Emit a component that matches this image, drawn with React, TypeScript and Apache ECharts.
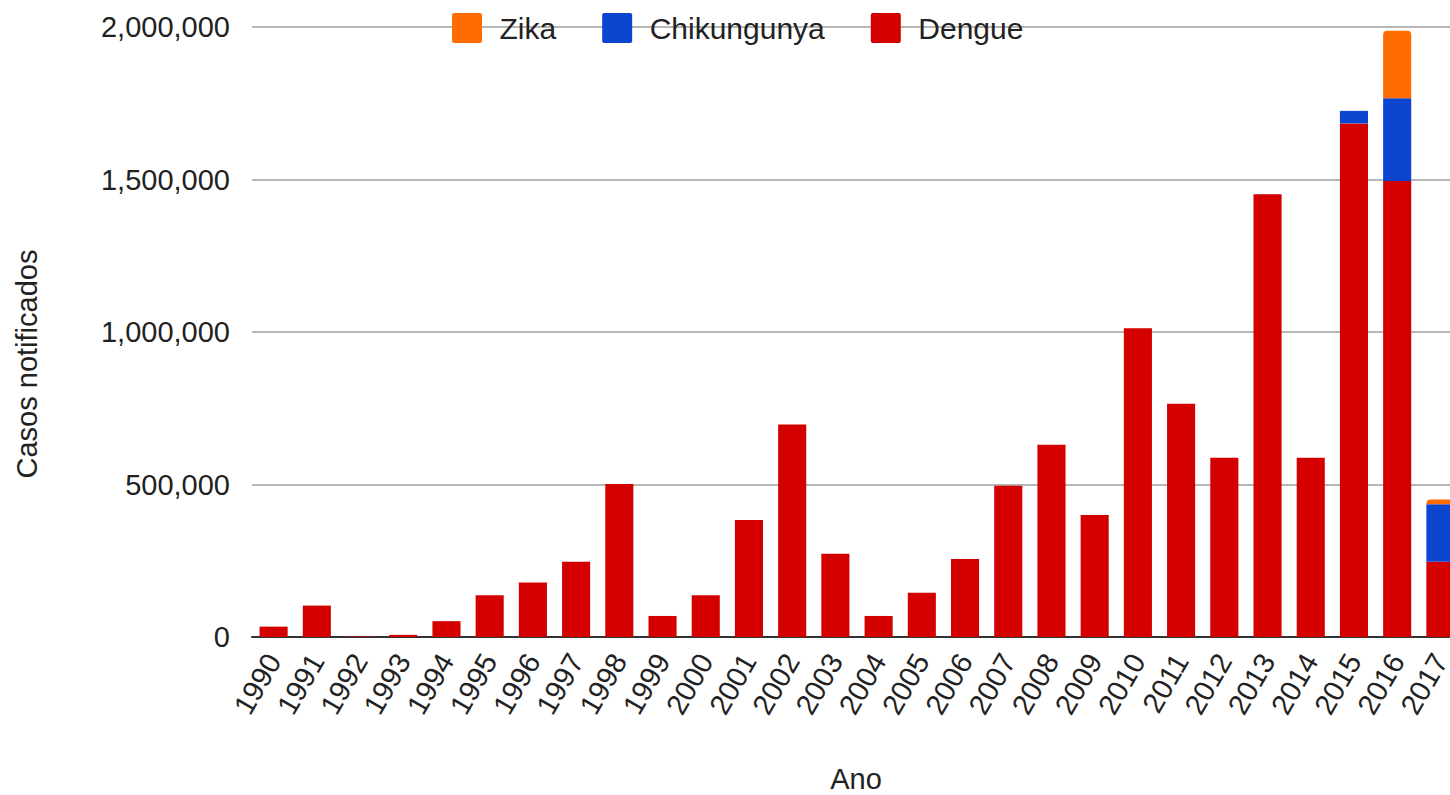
import React, { useEffect, useRef } from "react";
import * as echarts from "echarts";

const years = [
  "1990", "1991", "1992", "1993", "1994", "1995", "1996", "1997", "1998", "1999",
  "2000", "2001", "2002", "2003", "2004", "2005", "2006", "2007", "2008", "2009",
  "2010", "2011", "2012", "2013", "2014", "2015", "2016", "2017",
];
const dengue = [
  34000, 103000, 1700, 7000, 52000, 137000, 179000, 247000, 502000, 69000,
  137000, 384000, 697000, 273000, 69000, 145000, 256000, 496000, 630000, 400000,
  1012000, 765000, 588000, 1452000, 588000, 1684000, 1495000, 247000,
];
const chikungunya = [
  0, 0, 0, 0, 0, 0, 0, 0, 0, 0,
  0, 0, 0, 0, 0, 0, 0, 0, 0, 0,
  0, 0, 0, 0, 0, 41000, 271000, 188000,
];
const zika = [
  0, 0, 0, 0, 0, 0, 0, 0, 0, 0,
  0, 0, 0, 0, 0, 0, 0, 0, 0, 0,
  0, 0, 0, 0, 0, 0, 222000, 16000,
];
const yTicks = { min: 0, max: 2000000, interval: 500000 };
const seriesNames = ["Zika", "Chikungunya", "Dengue"];
const yTitle = "Casos notificados";
const xTitle = "Ano";

const FONT = "'Liberation Sans', Arial, sans-serif";
const ICON =
  "path://M2,0H28A2,2 0 0 1 30,2V28A2,2 0 0 1 28,30H2A2,2 0 0 1 0,28V2A2,2 0 0 1 2,0Z";

export default function App() {
  const ref = useRef<HTMLDivElement>(null);
  useEffect(() => {
    document.body.style.overflow = "hidden";
    const chart = echarts.init(ref.current!, null, { renderer: "svg" });
    chart.setOption({
      animation: false,
      textStyle: { fontFamily: FONT },
      legend: {
        data: seriesNames,
        left: 447,
        top: 8,
        itemWidth: 31,
        itemHeight: 30,
        itemGap: 46,
        icon: ICON,
        textStyle: { fontSize: 30, color: "#222", fontFamily: FONT, padding: [0, 0, 0, 12] },
      },
      grid: { left: 252, right: 18, top: 27, bottom: 158, containLabel: false },
      xAxis: {
        type: "category",
        data: years,
        axisTick: { show: false },
        axisLine: { lineStyle: { color: "#333", width: 2 } },
        axisLabel: {
          interval: 0,
          rotate: 60,
          margin: 19,
          fontSize: 29,
          color: "#222",
          fontFamily: FONT,
        },
      },
      yAxis: {
        type: "value",
        min: yTicks.min,
        max: yTicks.max,
        interval: yTicks.interval,
        axisLine: { show: false },
        axisTick: { show: false },
        splitLine: { lineStyle: { color: "#b7b7b7", width: 2 } },
        axisLabel: {
          margin: 22,
          fontSize: 29,
          color: "#222",
          fontFamily: FONT,
          formatter: (v: number) => v.toLocaleString("en-US"),
        },
      },
      graphic: [
        {
          type: "text",
          x: 27,
          y: 364,
          rotation: Math.PI / 2,
          style: {
            text: yTitle,
            fontSize: 29,
            fontFamily: FONT,
            fill: "#222",
            textAlign: "center",
            textVerticalAlign: "middle",
          },
        },
        {
          type: "text",
          x: 856,
          y: 779,
          style: {
            text: xTitle,
            fontSize: 29,
            fontFamily: FONT,
            fill: "#222",
            textAlign: "center",
            textVerticalAlign: "middle",
          },
        },
      ],
      series: [
        {
          name: "Dengue",
          type: "bar",
          stack: "total",
          data: dengue,
          barWidth: "65%",
          itemStyle: { color: "#d40000" },
        },
        {
          name: "Chikungunya",
          type: "bar",
          stack: "total",
          data: chikungunya,
          itemStyle: { color: "#0b45d0" },
        },
        {
          name: "Zika",
          type: "bar",
          stack: "total",
          data: zika,
          itemStyle: { color: "#ff6d01", borderRadius: [4, 4, 0, 0] },
        },
      ],
    });
    return () => chart.dispose();
  }, []);
  return (
    <div
      ref={ref}
      style={{ position: "fixed", left: 0, top: 0, width: 1480, height: 795, background: "#fff" }}
    />
  );
}
